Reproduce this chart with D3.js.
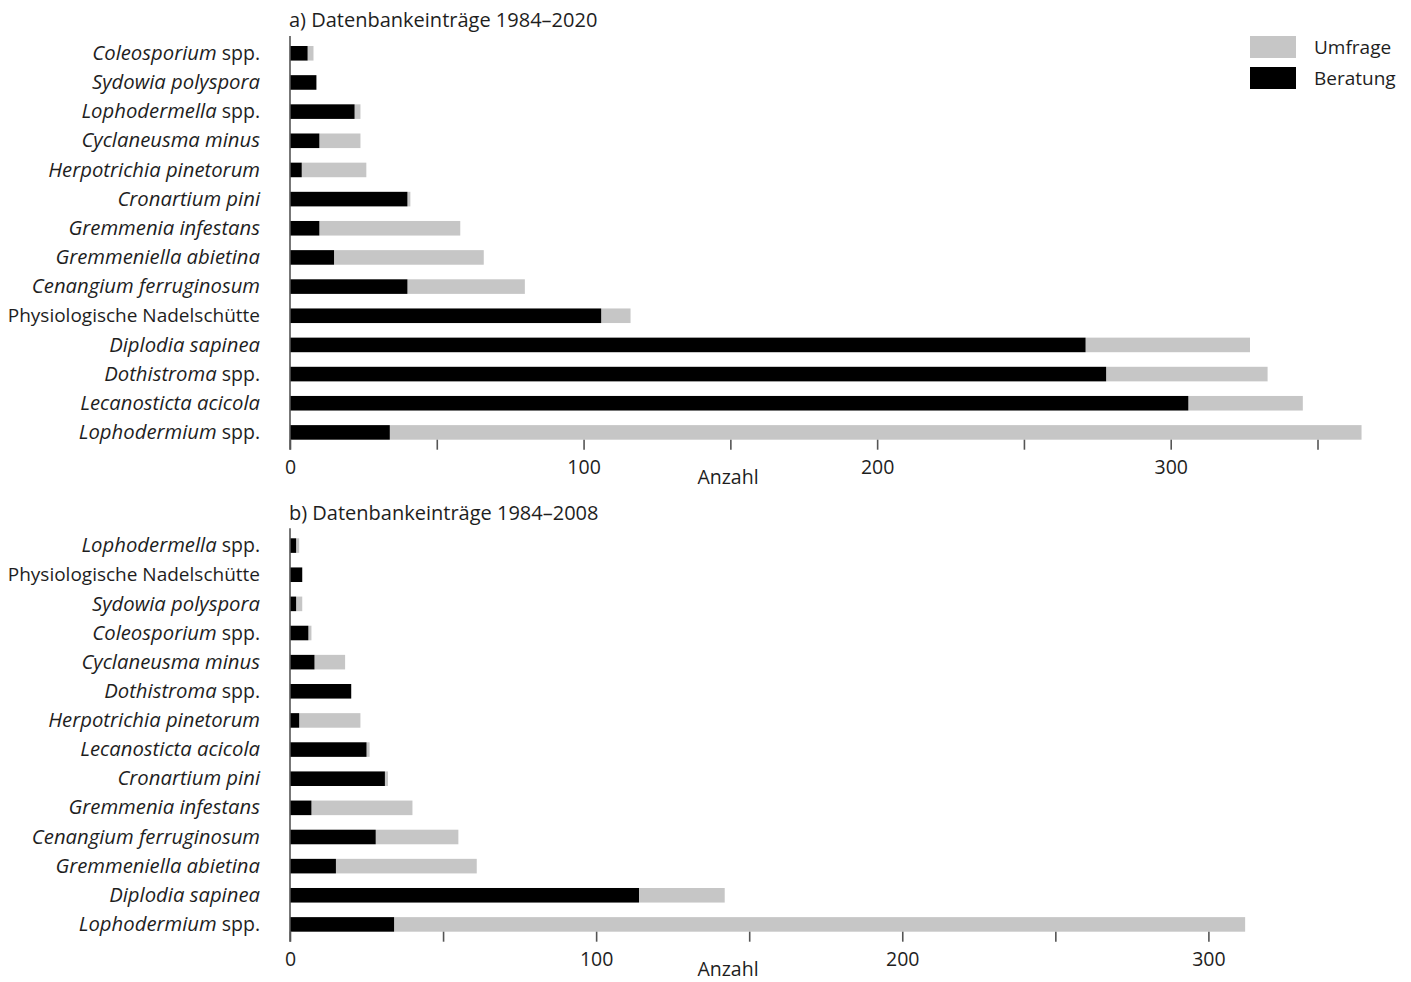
<!DOCTYPE html>
<html>
<head>
<meta charset="utf-8">
<script src="https://cdn.jsdelivr.net/npm/d3@7"></script>
<style>
  html, body { margin: 0; padding: 0; background: #fff; }
  svg { display: block; font-family: "Open Sans", sans-serif; }
</style>
</head>
<body>
<svg id="chart" width="1411" height="982"></svg>
<script>
// ---- Data ----
const titleA = "a) Datenbankeinträge 1984–2020";
const titleB = "b) Datenbankeinträge 1984–2008";
const axisLabel = "Anzahl";
const seriesNames = ["Umfrage", "Beratung"];

const categoriesA = ["Coleosporium spp.", "Sydowia polyspora", "Lophodermella spp.", "Cyclaneusma minus",
  "Herpotrichia pinetorum", "Cronartium pini", "Gremmenia infestans", "Gremmeniella abietina",
  "Cenangium ferruginosum", "Physiologische Nadelschütte", "Diplodia sapinea", "Dothistroma spp.",
  "Lecanosticta acicola", "Lophodermium spp."];
const beratungA = [6, 9, 22, 10, 4, 40, 10, 15, 40, 106, 271, 278, 306, 34];
const umfrageA  = [2, 0, 2, 14, 22, 1, 48, 51, 40, 10, 56, 55, 39, 331];
const ticksA = [0, 50, 100, 150, 200, 250, 300, 350];

const categoriesB = ["Lophodermella spp.", "Physiologische Nadelschütte", "Sydowia polyspora", "Coleosporium spp.",
  "Cyclaneusma minus", "Dothistroma spp.", "Herpotrichia pinetorum", "Lecanosticta acicola",
  "Cronartium pini", "Gremmenia infestans", "Cenangium ferruginosum", "Gremmeniella abietina",
  "Diplodia sapinea", "Lophodermium spp."];
const beratungB = [2, 4, 2, 6, 8, 20, 3, 25, 31, 7, 28, 15, 114, 34];
const umfrageB  = [1, 0, 2, 1, 10, 0, 20, 1, 1, 33, 27, 46, 28, 278];
const ticksB = [0, 50, 100, 150, 200, 250, 300];

const uprightLabels = ["Physiologische Nadelschütte"];

// ---- Style ----
const COL_U = "#c6c6c6", COL_B = "#000000", TXT = "#1e1e1e", AX = "#555555";
const FS = 19.5, FS_IT = 20.3, FS_TITLE = 20;

const svg = d3.select("#chart");

function drawPanel(cfg) {
  const g = svg.append("g");
  const x = d3.scaleLinear().domain(cfg.xDomain).range(cfg.xRange);
  const y = d3.scaleBand().domain(cfg.cats).range(cfg.yRange).paddingInner(0.5).paddingOuter(0);
  const rows = cfg.cats.map((c, i) => ({ c, b: cfg.ber[i], u: cfg.umf[i] }));

  // title
  g.append("text").attr("x", x(0) - 1).attr("y", cfg.titleY)
    .attr("font-size", FS_TITLE).attr("fill", TXT).text(cfg.title);

  // Umfrage (stacked after Beratung)
  g.selectAll("rect.u").data(rows).join("rect").attr("class", "u")
    .attr("x", d => x(d.b)).attr("y", d => y(d.c))
    .attr("width", d => x(d.b + d.u) - x(d.b)).attr("height", y.bandwidth())
    .attr("fill", COL_U);
  g.selectAll("rect.b").data(rows).join("rect").attr("class", "b")
    .attr("x", x(0)).attr("y", d => y(d.c))
    .attr("width", d => x(d.b) - x(0)).attr("height", y.bandwidth())
    .attr("fill", COL_B);

  // y axis labels
  const yAx = g.append("g").attr("transform", `translate(${x(0)},0)`)
    .call(d3.axisLeft(y).tickSize(0).tickPadding(30));
  yAx.select(".domain").remove();
  yAx.selectAll(".tick text").each(function(d) {
    const t = d3.select(this).text("").attr("font-size", FS).attr("fill", TXT)
      .attr("font-family", '"Open Sans", sans-serif').attr("dy", "0.34em");
    if (uprightLabels.includes(d)) {
      t.append("tspan").attr("font-size", 19).text(d);
    } else if (d.endsWith(" spp.")) {
      t.append("tspan").attr("font-style", "italic").attr("font-size", FS_IT).text(d.slice(0, -5));
      t.append("tspan").text(" spp.");
    } else {
      t.append("tspan").attr("font-style", "italic").attr("font-size", FS_IT).text(d);
    }
  });

  // vertical axis line
  const axY = cfg.yRange[1];
  g.append("line").attr("x1", x(0)).attr("x2", x(0))
    .attr("y1", cfg.yRange[0] - 10).attr("y2", axY + 10)
    .attr("stroke", AX).attr("stroke-width", 1.6);

  // x axis
  const xAx = g.append("g").attr("transform", `translate(0,${axY})`)
    .call(d3.axisBottom(x).tickValues(cfg.ticks).tickSize(10).tickPadding(10)
      .tickFormat(d => d % 100 === 0 ? d : ""));
  xAx.select(".domain").remove();
  xAx.selectAll(".tick line").attr("stroke", AX).attr("stroke-width", 1.6);
  xAx.selectAll(".tick text").attr("font-size", FS).attr("fill", TXT)
    .attr("font-family", '"Open Sans", sans-serif');

  g.append("text").attr("x", 728).attr("y", axY + 44).attr("text-anchor", "middle")
    .attr("font-size", FS).attr("fill", TXT).text(axisLabel);
}

drawPanel({ title: titleA, titleY: 27, cats: categoriesA, ber: beratungA, umf: umfrageA,
  xDomain: [0, 350], xRange: [290, 1317.5], yRange: [46, 439.7], ticks: ticksA });
drawPanel({ title: titleB, titleY: 520, cats: categoriesB, ber: beratungB, umf: umfrageB,
  xDomain: [0, 300], xRange: [290, 1208.4], yRange: [538.3, 931.7], ticks: ticksB });

// legend
const leg = svg.append("g");
const legCols = [COL_U, COL_B];
seriesNames.forEach((n, i) => {
  leg.append("rect").attr("x", 1250).attr("y", 36 + i * 31).attr("width", 46).attr("height", 22)
    .attr("fill", legCols[i]);
  leg.append("text").attr("x", 1314).attr("y", 47 + i * 31).attr("dy", "0.35em")
    .attr("font-size", 19).attr("fill", TXT).text(n);
});
</script>
</body>
</html>
